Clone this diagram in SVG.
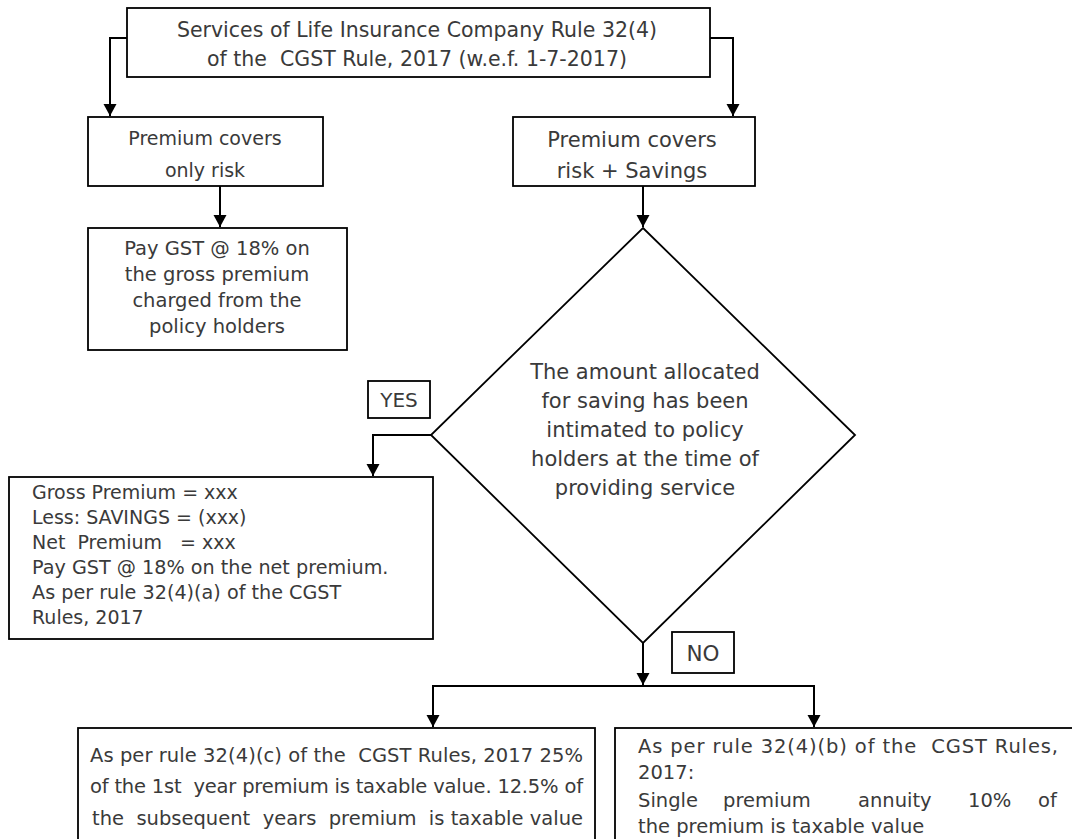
<svg xmlns="http://www.w3.org/2000/svg" width="1072" height="839" viewBox="0 0 1072 839">
<defs>
<marker id="arr" markerUnits="userSpaceOnUse" markerWidth="14" markerHeight="14" refX="12" refY="6.5" orient="auto">
<path d="M0,0 L12,6.5 L0,13 z" fill="#000"/>
</marker>
<style>
.box{fill:#fff;stroke:#000;stroke-width:1.8}
.t{font-family:"DejaVu Sans","Liberation Sans",sans-serif;fill:#3a3a3a}
.c{text-anchor:middle}
.conn{fill:none;stroke:#000;stroke-width:2}
</style>
</defs>
<rect width="1072" height="839" fill="#fff"/>

<g id="connectors">
<path class="conn" d="M127,38 H110 V116" marker-end="url(#arr)"/>
<path class="conn" d="M710,38 H733 V116" marker-end="url(#arr)"/>
<path class="conn" d="M220,186 V227" marker-end="url(#arr)"/>
<path class="conn" d="M643,186 V227" marker-end="url(#arr)"/>
<path class="conn" d="M431,435 H373 V476" marker-end="url(#arr)"/>
<path class="conn" d="M643,643 V685" marker-end="url(#arr)"/>
<path class="conn" d="M433,727 V686 H814 V727" />
<path class="conn" d="M433,700 V727" marker-end="url(#arr)"/>
<path class="conn" d="M814,700 V727" marker-end="url(#arr)"/>
</g>

<g id="top">
<rect class="box" x="127" y="8" width="583" height="69"/>
<text class="t c" x="417" y="37" font-size="20.5">Services of Life Insurance Company Rule 32(4)</text>
<text class="t c" x="417" y="66" font-size="20.5" xml:space="preserve">of the  CGST Rule, 2017 (w.e.f. 1-7-2017)</text>
</g>

<g id="onlyrisk">
<rect class="box" x="88" y="117" width="235" height="69"/>
<text class="t c" x="205" y="145" font-size="19">Premium covers</text>
<text class="t c" x="205" y="177" font-size="19">only risk</text>
</g>

<g id="risksavings">
<rect class="box" x="513" y="117" width="242" height="69"/>
<text class="t c" x="632" y="147" font-size="21">Premium covers</text>
<text class="t c" x="632" y="178" font-size="21">risk + Savings</text>
</g>

<g id="paygst">
<rect class="box" x="88" y="228" width="259" height="122"/>
<text class="t c" x="217" y="255" font-size="19.5">Pay GST @ 18% on</text>
<text class="t c" x="217" y="281" font-size="19.5">the gross premium</text>
<text class="t c" x="217" y="307" font-size="19.5">charged from the</text>
<text class="t c" x="217" y="333" font-size="19.5">policy holders</text>
</g>

<g id="decision">
<polygon class="box" points="643,228 855,435 643,643 431,435"/>
<text class="t c" x="645" y="379" font-size="21">The amount allocated</text>
<text class="t c" x="645" y="408" font-size="21">for saving has been</text>
<text class="t c" x="645" y="437" font-size="21">intimated to policy</text>
<text class="t c" x="645" y="466" font-size="21">holders at the time of</text>
<text class="t c" x="645" y="495" font-size="21">providing service</text>
</g>

<g id="yes">
<rect class="box" x="368" y="381" width="62" height="37"/>
<text class="t c" x="399" y="407" font-size="20">YES</text>
</g>

<g id="no">
<rect class="box" x="672" y="632" width="62" height="41"/>
<text class="t c" x="703" y="661" font-size="21.5">NO</text>
</g>

<g id="netpremium">
<rect class="box" x="9" y="477" width="424" height="162"/>
<text class="t" x="32" y="499" font-size="19">Gross Premium = xxx</text>
<text class="t" x="32" y="524" font-size="19">Less: SAVINGS = (xxx)</text>
<text class="t" x="32" y="549" font-size="19" xml:space="preserve">Net  Premium   = xxx</text>
<text class="t" x="32" y="574" font-size="19.2">Pay GST @ 18% on the net premium.</text>
<text class="t" x="32" y="599" font-size="19.2">As per rule 32(4)(a) of the CGST</text>
<text class="t" x="32" y="624" font-size="19">Rules, 2017</text>
</g>

<g id="rule_c">
<rect class="box" x="78" y="728" width="517" height="130"/>
<text class="t" x="90" y="762" font-size="19.5" textLength="493" lengthAdjust="spacing" xml:space="preserve">As per rule 32(4)(c) of the  CGST Rules, 2017 25%</text>
<text class="t" x="90" y="793" font-size="19.5" textLength="493" lengthAdjust="spacing" xml:space="preserve">of the 1st  year premium is taxable value. 12.5% of</text>
<text class="t" x="92" y="825" font-size="19.5" textLength="491" lengthAdjust="spacing" xml:space="preserve">the  subsequent  years  premium  is taxable value</text>
</g>

<g id="rule_b">
<rect class="box" x="615" y="728" width="480" height="130"/>
<text class="t" x="638" y="753" font-size="19.5" textLength="420" lengthAdjust="spacing" xml:space="preserve">As per rule 32(4)(b) of the  CGST Rules,</text>
<text class="t" x="638" y="779" font-size="19.5">2017:</text>
<text class="t" font-size="19.5" y="807"><tspan x="638">Single</tspan><tspan x="723">premium</tspan><tspan x="858">annuity</tspan><tspan x="968">10%</tspan><tspan x="1038">of</tspan></text>
<text class="t" x="638" y="833" font-size="19.5">the premium is taxable value</text>
</g>
</svg>
